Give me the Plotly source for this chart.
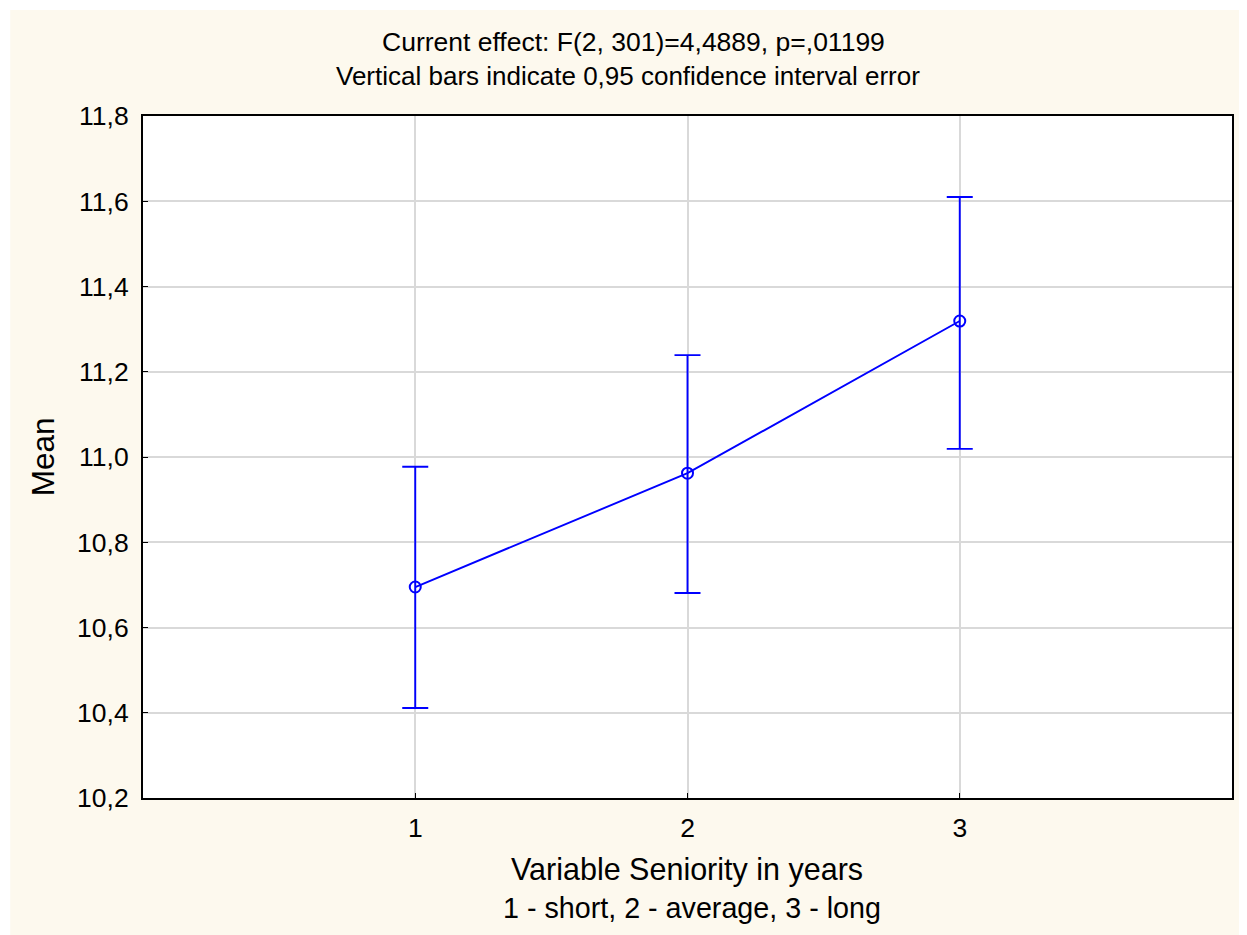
import plotly.graph_objects as go

# Data
groups = [1, 2, 3]
means = [10.695, 10.962, 11.319]
lower = [10.411, 10.681, 11.019]
upper = [10.977, 11.239, 11.610]
y_ticks = [10.2, 10.4, 10.6, 10.8, 11.0, 11.2, 11.4, 11.6, 11.8]
y_tick_labels = ["10,2", "10,4", "10,6", "10,8", "11,0", "11,2", "11,4", "11,6", "11,8"]
x_ticks = [1, 2, 3]
x_tick_labels = ["1", "2", "3"]

title_1 = "Current effect: F(2, 301)=4,4889, p=,01199"
title_2 = "Vertical bars indicate 0,95 confidence interval error"
x_title_1 = "Variable Seniority in years"
x_title_2 = "1 - short, 2 - average, 3 - long"
y_title = "Mean"

err_plus = [u - m for u, m in zip(upper, means)]
err_minus = [m - l for m, l in zip(means, lower)]

FONT = "Liberation Sans, Arial, sans-serif"
BLUE = "#0000FF"
CREAM = "#FDF9EE"

fig = go.Figure()
fig.add_trace(go.Scatter(
    x=groups, y=means, mode="lines+markers",
    line=dict(color=BLUE, width=1.9),
    marker=dict(symbol="circle-open", size=11, color=BLUE, line=dict(width=2, color=BLUE)),
    error_y=dict(type="data", symmetric=False, array=err_plus, arrayminus=err_minus,
                 color=BLUE, thickness=1.9, width=13),
    showlegend=False,
))

OFF = 8  # page body margin
W, H = 1231, 927
ml, mr, mt, mb = 135, 5, 108, 137
pw, ph = W - ml - mr, H - mt - mb

def px(xp):
    return (xp - OFF - ml) / pw

def py(yp):
    return (H - mb - (yp - OFF)) / ph

annotations = [
    dict(text=title_1, x=px(634), y=py(42), xref="paper", yref="paper", showarrow=False,
         xanchor="center", yanchor="middle", font=dict(family=FONT, size=26.5, color="black")),
    dict(text=title_2, x=px(629), y=py(76), xref="paper", yref="paper", showarrow=False,
         xanchor="center", yanchor="middle", font=dict(family=FONT, size=26, color="black")),
    dict(text=x_title_1, x=px(688), y=py(870), xref="paper", yref="paper", showarrow=False,
         xanchor="center", yanchor="middle", font=dict(family=FONT, size=30.5, color="black")),
    dict(text=x_title_2, x=px(693), y=py(908), xref="paper", yref="paper", showarrow=False,
         xanchor="center", yanchor="middle", font=dict(family=FONT, size=28.7, color="black")),
    dict(text=y_title, x=px(43), y=py(457), xref="paper", yref="paper", showarrow=False,
         textangle=-90, xanchor="center", yanchor="middle", font=dict(family=FONT, size=31.5, color="black")),
]

shapes = [
    dict(type="rect", xref="paper", yref="paper", x0=px(0), x1=px(1260), y0=py(10), y1=py(0),
         fillcolor="white", line=dict(width=0), layer="below"),
    dict(type="rect", xref="paper", yref="paper", x0=px(0), x1=px(10), y0=py(950), y1=py(0),
         fillcolor="white", line=dict(width=0), layer="below"),
]

fig.update_layout(
    width=W, height=H,
    margin=dict(l=ml, r=mr, t=mt, b=mb),
    paper_bgcolor=CREAM, plot_bgcolor="white",
    font=dict(family=FONT, color="black"),
    annotations=annotations,
    shapes=shapes,
    xaxis=dict(range=[0, 4], tickvals=x_ticks, ticktext=x_tick_labels,
               showgrid=True, gridcolor="#D9D9D9", gridwidth=1.5,
               showline=True, linecolor="black", linewidth=2, mirror=True,
               ticks="inside", ticklen=5, tickcolor="black",
               ticklabelstandoff=5,
               tickfont=dict(family=FONT, size=26.5, color="black"), zeroline=False),
    yaxis=dict(range=[10.2, 11.8], tickvals=y_ticks, ticktext=y_tick_labels,
               showgrid=True, gridcolor="#D9D9D9", gridwidth=1.5,
               showline=True, linecolor="black", linewidth=2, mirror=True,
               ticks="inside", ticklen=5, tickcolor="black",
               ticklabelstandoff=7,
               tickfont=dict(family=FONT, size=26.5, color="black"), zeroline=False),
)

fig.write_html("out.html")
